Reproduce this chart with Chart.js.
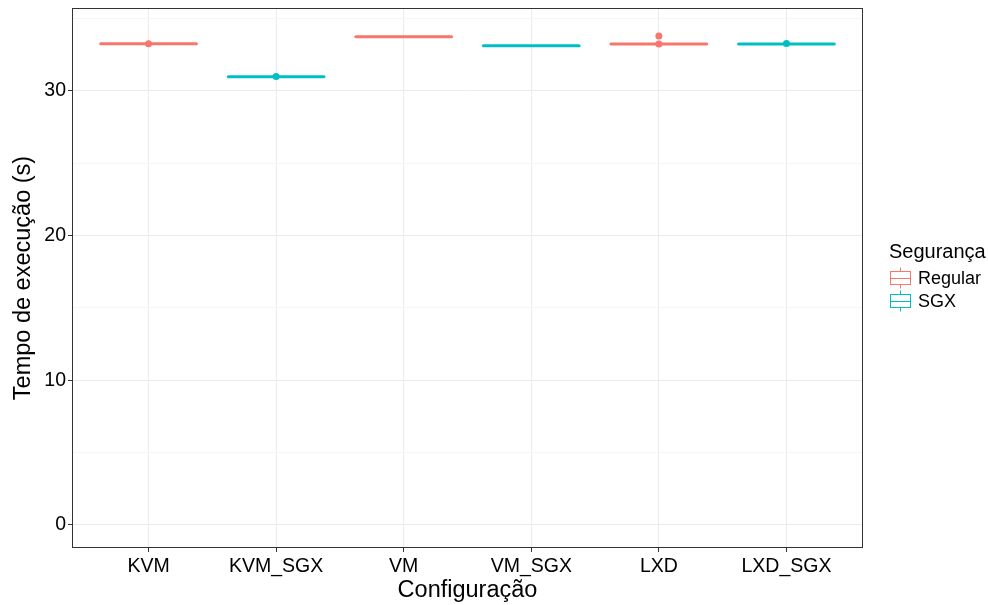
<!DOCTYPE html>
<html>
<head>
<meta charset="utf-8">
<script src="https://cdn.jsdelivr.net/npm/chart.js@4/dist/chart.umd.min.js"></script>
<style>
  html, body { margin: 0; padding: 0; background: #fff; }
  #wrap { width: 988px; height: 605px; }
</style>
</head>
<body>
<div id="wrap"><canvas id="myChart" width="988" height="605"></canvas></div>
<script>
// data
var categories = ['KVM', 'KVM_SGX', 'VM', 'VM_SGX', 'LXD', 'LXD_SGX'];
var groupOf = ['Regular', 'SGX', 'Regular', 'SGX', 'Regular', 'SGX'];
var medians = [33.26, 30.97, 33.75, 33.12, 33.25, 33.25];
var q1 = [33.24, 30.95, 33.73, 33.10, 33.23, 33.23];
var q3 = [33.28, 30.99, 33.77, 33.14, 33.27, 33.27];
var whiskLo = [33.24, 30.95, 33.73, 33.10, 33.23, 33.23];
var whiskHi = [33.28, 30.99, 33.77, 33.14, 33.27, 33.27];
var outliers = [[33.26], [31.0], [], [], [33.79, 33.25], [33.28]];
var groups = ['Regular', 'SGX'];
var yTicks = [0, 10, 20, 30];
var yMinor = [5, 15, 25, 35];

var colors = { Regular: '#F8766D', SGX: '#00BFC4' };
var fontFam = '"Liberation Sans", Arial, sans-serif';

// outlier points per group
var outRegular = [], outSGX = [];
for (var i = 0; i < categories.length; i++) {
  for (var j = 0; j < outliers[i].length; j++) {
    var p = { x: i, y: outliers[i][j] };
    if (groupOf[i] == 'Regular') outRegular.push(p); else outSGX.push(p);
  }
}

var boxPlugin = {
  id: 'boxes',
  beforeDatasetsDraw: function (chart) {
    var ctx = chart.ctx, xs = chart.scales.x, ys = chart.scales.y;
    ctx.save();
    for (var i = 0; i < categories.length; i++) {
      var c = colors[groupOf[i]];
      var x0 = xs.getPixelForValue(i - 0.375), x1 = xs.getPixelForValue(i + 0.375);
      var xm = xs.getPixelForValue(i);
      var yq1 = ys.getPixelForValue(q1[i]), yq3 = ys.getPixelForValue(q3[i]);
      ctx.strokeStyle = c;
      ctx.lineWidth = 1;
      ctx.beginPath();
      ctx.moveTo(xm, ys.getPixelForValue(whiskHi[i])); ctx.lineTo(xm, yq3);
      ctx.moveTo(xm, ys.getPixelForValue(whiskLo[i])); ctx.lineTo(xm, yq1);
      ctx.stroke();
      ctx.strokeRect(x0, yq3, x1 - x0, yq1 - yq3);
      ctx.lineWidth = 3;
      ctx.lineCap = 'round';
      ctx.beginPath();
      var ym = ys.getPixelForValue(medians[i]);
      ctx.moveTo(x0, ym); ctx.lineTo(x1, ym);
      ctx.stroke();
    }
    ctx.restore();
  },
  afterDraw: function (chart) {
    var ctx = chart.ctx, a = chart.chartArea;
    ctx.save();
    // panel border
    ctx.strokeStyle = '#333';
    ctx.lineWidth = 1;
    ctx.strokeRect(a.left + 0.5, a.top + 0.5, a.right - a.left - 1, a.bottom - a.top - 1);
    // legend
    ctx.fillStyle = '#000';
    ctx.font = '20px ' + fontFam;
    ctx.textBaseline = 'middle';
    ctx.fillText('Segurança', 889, 252);
    for (var g = 0; g < groups.length; g++) {
      var cy = 278 + g * 23, c = colors[groups[g]];
      ctx.strokeStyle = c;
      ctx.lineWidth = 1;
      ctx.beginPath();
      ctx.moveTo(900.5, cy - 10.5); ctx.lineTo(900.5, cy + 10.5);
      ctx.stroke();
      ctx.fillStyle = '#fff';
      ctx.fillRect(890.5, cy - 6.5, 20, 13);
      ctx.strokeRect(890.5, cy - 6.5, 20, 13);
      ctx.beginPath();
      ctx.moveTo(890.5, cy + 0.5); ctx.lineTo(910.5, cy + 0.5);
      ctx.stroke();
      ctx.fillStyle = '#000';
      ctx.font = '18px ' + fontFam;
      ctx.fillText(groups[g], 918, cy + 1);
    }
    ctx.restore();
  }
};

var myChart = document.getElementById('myChart').getContext('2d');
var chart1 = new Chart(myChart, {
  type: 'scatter',
  data: {
    datasets: [
      { label: 'Regular', data: outRegular, backgroundColor: colors.Regular, borderColor: colors.Regular, pointRadius: 3.5, pointBorderWidth: 0 },
      { label: 'SGX', data: outSGX, backgroundColor: colors.SGX, borderColor: colors.SGX, pointRadius: 3.5, pointBorderWidth: 0 }
    ]
  },
  options: {
    responsive: false,
    animation: false,
    layout: { padding: { left: 0, top: 8, right: 125, bottom: 0 } },
    plugins: { legend: { display: false }, tooltip: { enabled: false } },
    scales: {
      x: {
        type: 'linear',
        min: -0.6,
        max: 5.6,
        afterBuildTicks: function (s) {
          s.ticks = categories.map(function (c, i) { return { value: i }; });
        },
        afterFit: function (s) { s.height = 57; s.paddingLeft = 0; s.paddingRight = 0; },
        ticks: {
          callback: function (v) { return categories[v]; },
          color: '#000',
          font: { family: fontFam, size: 19.5 },
          padding: 3,
          maxRotation: 0
        },
        grid: { color: '#EBEBEB', lineWidth: 1, tickLength: 4, tickColor: '#333' },
        border: { display: false },
        title: { display: true, text: 'Configuração', color: '#000', font: { family: fontFam, size: 23.5 }, padding: { top: 2, bottom: 0 } }
      },
      y: {
        type: 'linear',
        min: -1.59,
        max: 35.73,
        afterBuildTicks: function (s) {
          var t = yTicks.concat(yMinor).sort(function (a, b) { return a - b; });
          s.ticks = t.map(function (v) { return { value: v }; });
        },
        afterFit: function (s) { s.width = 72; s.paddingTop = 0; s.paddingBottom = 0; },
        ticks: {
          callback: function (v) { return yTicks.indexOf(v) >= 0 ? String(v) : ''; },
          color: '#000',
          font: { family: fontFam, size: 19.5 },
          padding: 2
        },
        grid: {
          color: function (c) { return yTicks.indexOf(c.tick.value) >= 0 ? '#EBEBEB' : '#F5F5F5'; },
          tickColor: function (c) { return yTicks.indexOf(c.tick.value) >= 0 ? '#333' : 'rgba(0,0,0,0)'; },
          lineWidth: 1,
          tickLength: 4
        },
        border: { display: false },
        title: { display: true, text: 'Tempo de execução (s)', color: '#000', font: { family: fontFam, size: 23.5 }, padding: { top: 9, bottom: 0 } }
      }
    }
  },
  plugins: [boxPlugin]
});
</script>
</body>
</html>
